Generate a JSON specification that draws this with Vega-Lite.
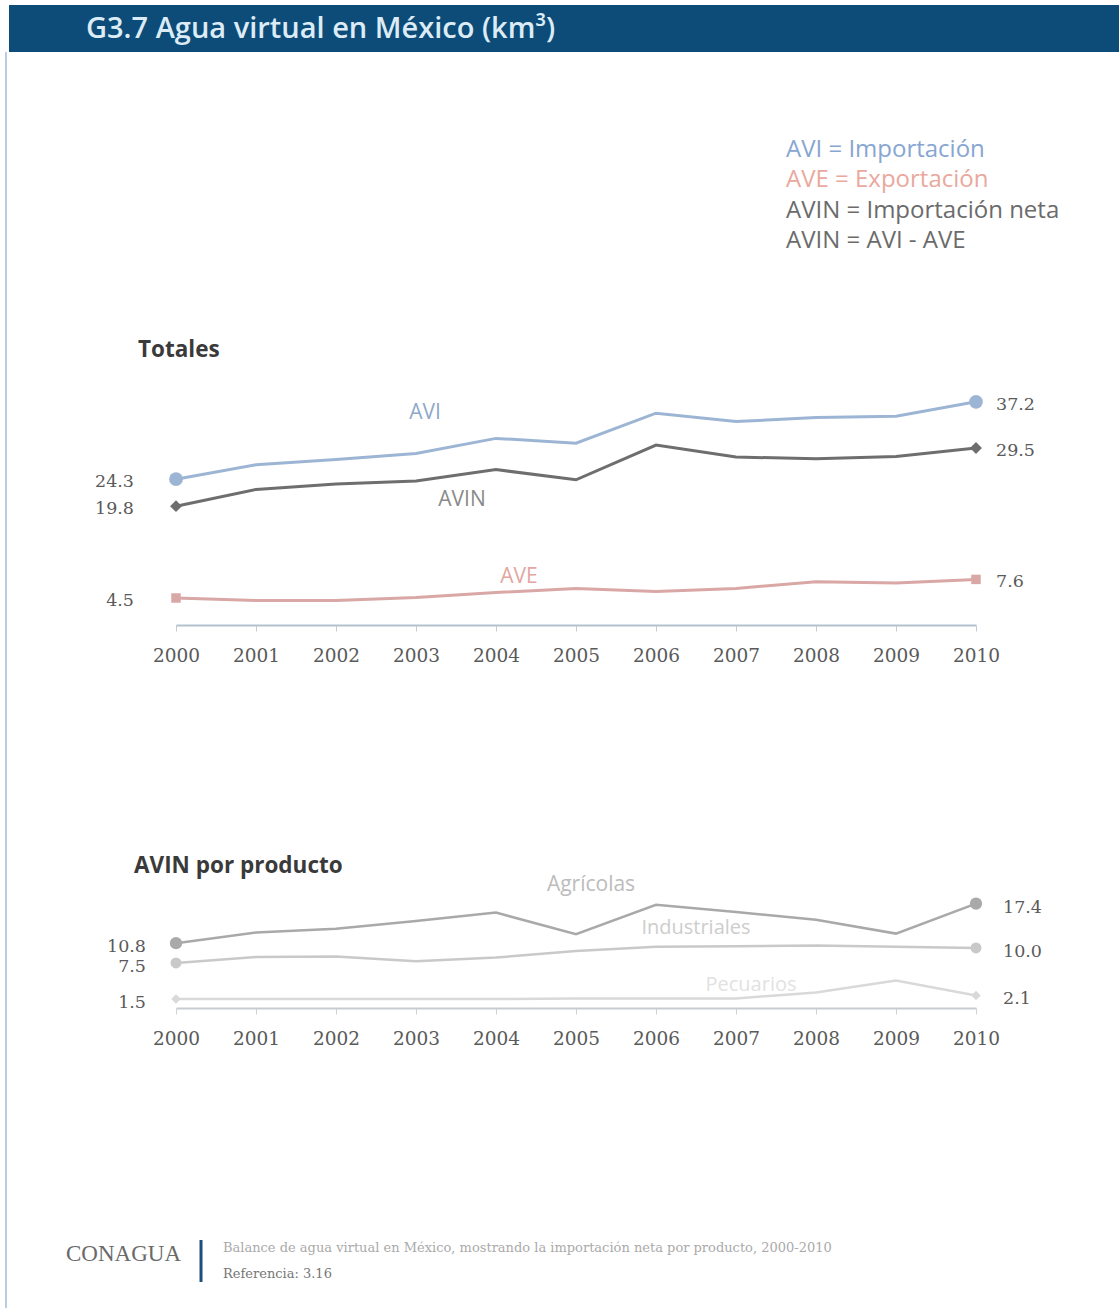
{
  "$schema": "https://vega.github.io/schema/vega-lite/v6.json",
  "background": "white",
  "padding": {"left": 5, "top": 5, "right": 0, "bottom": 0},
  "bounds": "flush",
  "spacing": 0,
  "config": {"view": {"stroke": null}},
  "resolve": {"scale": {"color": "independent", "shape": "independent", "size": "independent", "y": "independent"}},
  "datasets": {
    "totales": [
      {"year": 2000, "series": "AVI", "value": 24.3}, {"year": 2001, "series": "AVI", "value": 26.7}, {"year": 2002, "series": "AVI", "value": 27.6}, {"year": 2003, "series": "AVI", "value": 28.6}, {"year": 2004, "series": "AVI", "value": 31.1}, {"year": 2005, "series": "AVI", "value": 30.3}, {"year": 2006, "series": "AVI", "value": 35.3}, {"year": 2007, "series": "AVI", "value": 33.9}, {"year": 2008, "series": "AVI", "value": 34.6}, {"year": 2009, "series": "AVI", "value": 34.8}, {"year": 2010, "series": "AVI", "value": 37.2},
      {"year": 2000, "series": "AVIN", "value": 19.8}, {"year": 2001, "series": "AVIN", "value": 22.6}, {"year": 2002, "series": "AVIN", "value": 23.5}, {"year": 2003, "series": "AVIN", "value": 24.0}, {"year": 2004, "series": "AVIN", "value": 25.9}, {"year": 2005, "series": "AVIN", "value": 24.2}, {"year": 2006, "series": "AVIN", "value": 30.0}, {"year": 2007, "series": "AVIN", "value": 28.0}, {"year": 2008, "series": "AVIN", "value": 27.7}, {"year": 2009, "series": "AVIN", "value": 28.1}, {"year": 2010, "series": "AVIN", "value": 29.5},
      {"year": 2000, "series": "AVE", "value": 4.5}, {"year": 2001, "series": "AVE", "value": 4.1}, {"year": 2002, "series": "AVE", "value": 4.1}, {"year": 2003, "series": "AVE", "value": 4.6}, {"year": 2004, "series": "AVE", "value": 5.4}, {"year": 2005, "series": "AVE", "value": 6.1}, {"year": 2006, "series": "AVE", "value": 5.6}, {"year": 2007, "series": "AVE", "value": 6.1}, {"year": 2008, "series": "AVE", "value": 7.2}, {"year": 2009, "series": "AVE", "value": 7.0}, {"year": 2010, "series": "AVE", "value": 7.6}
    ],
    "producto": [
      {"year": 2000, "series": "Agrícolas", "value": 10.8}, {"year": 2001, "series": "Agrícolas", "value": 12.6}, {"year": 2002, "series": "Agrícolas", "value": 13.2}, {"year": 2003, "series": "Agrícolas", "value": 14.5}, {"year": 2004, "series": "Agrícolas", "value": 15.9}, {"year": 2005, "series": "Agrícolas", "value": 12.3}, {"year": 2006, "series": "Agrícolas", "value": 17.2}, {"year": 2007, "series": "Agrícolas", "value": 16.0}, {"year": 2008, "series": "Agrícolas", "value": 14.7}, {"year": 2009, "series": "Agrícolas", "value": 12.4}, {"year": 2010, "series": "Agrícolas", "value": 17.4},
      {"year": 2000, "series": "Industriales", "value": 7.5}, {"year": 2001, "series": "Industriales", "value": 8.5}, {"year": 2002, "series": "Industriales", "value": 8.6}, {"year": 2003, "series": "Industriales", "value": 7.8}, {"year": 2004, "series": "Industriales", "value": 8.4}, {"year": 2005, "series": "Industriales", "value": 9.5}, {"year": 2006, "series": "Industriales", "value": 10.2}, {"year": 2007, "series": "Industriales", "value": 10.3}, {"year": 2008, "series": "Industriales", "value": 10.4}, {"year": 2009, "series": "Industriales", "value": 10.2}, {"year": 2010, "series": "Industriales", "value": 10.0},
      {"year": 2000, "series": "Pecuarios", "value": 1.5}, {"year": 2001, "series": "Pecuarios", "value": 1.5}, {"year": 2002, "series": "Pecuarios", "value": 1.5}, {"year": 2003, "series": "Pecuarios", "value": 1.5}, {"year": 2004, "series": "Pecuarios", "value": 1.5}, {"year": 2005, "series": "Pecuarios", "value": 1.6}, {"year": 2006, "series": "Pecuarios", "value": 1.6}, {"year": 2007, "series": "Pecuarios", "value": 1.6}, {"year": 2008, "series": "Pecuarios", "value": 2.6}, {"year": 2009, "series": "Pecuarios", "value": 4.6}, {"year": 2010, "series": "Pecuarios", "value": 2.1}
    ],
    "one": [{"k": 1}]
  },
  "vconcat": [
    {
      "width": 1111,
      "height": 47,
      "view": {"fill": "#0d4b78", "stroke": null},
      "data": {"name": "one"},
      "mark": {"type": "text", "text": "G3.7 Agua virtual en México (km³)", "align": "left", "baseline": "middle", "font": "Open Sans", "fontSize": 29, "fontWeight": 600, "color": "#dcecf6"},
      "encoding": {"x": {"value": 77}, "y": {"value": 24}}
    },
    {
      "width": 1111,
      "height": 573,
      "layer": [
        {
          "data": {"name": "totales"},
          "mark": {"type": "line", "strokeWidth": 3},
          "encoding": {
            "x": {"field": "year", "type": "quantitative", "scale": {"domain": [2000, 2010], "range": [167, 967], "nice": false, "zero": false}, "axis": {"values": [2000, 2001, 2002, 2003, 2004, 2005, 2006, 2007, 2008, 2009, 2010], "format": "d", "domain": true, "domainColor": "#b3c1cf", "domainWidth": 2, "grid": false, "ticks": true, "tickSize": 6, "tickColor": "#c2ccd6", "labelPadding": 15, "labelFlush": false, "labelOverlap": false, "labelFont": "DejaVu Serif", "labelFontSize": 18.5, "labelColor": "#5a5a5a", "title": null}},
            "y": {"field": "value", "type": "quantitative", "scale": {"domain": [0, 95.5], "nice": false}, "axis": null},
            "color": {"field": "series", "type": "nominal", "scale": {"domain": ["AVI", "AVIN", "AVE"], "range": ["#9db5d4", "#6e6e6e", "#d9a7a5"]}, "legend": null}
          }
        },
        {
          "data": {"name": "totales"},
          "transform": [{"filter": "datum.year == 2000 || datum.year == 2010"}],
          "mark": {"type": "point", "filled": true, "opacity": 1},
          "encoding": {
            "x": {"field": "year", "type": "quantitative"},
            "y": {"field": "value", "type": "quantitative"},
            "color": {"field": "series", "type": "nominal", "legend": null},
            "shape": {"field": "series", "type": "nominal", "scale": {"domain": ["AVI", "AVIN", "AVE"], "range": ["circle", "diamond", "square"]}, "legend": null},
            "size": {"field": "series", "type": "nominal", "scale": {"domain": ["AVI", "AVIN", "AVE"], "range": [190, 90, 200]}, "legend": null}
          }
        },
        {
          "data": {"name": "totales"},
          "transform": [{"filter": "datum.year == 2000"}],
          "mark": {"type": "text", "align": "right", "baseline": "middle", "dx": -42, "dy": 3, "font": "DejaVu Serif", "fontSize": 17.5, "color": "#5a5a5a"},
          "encoding": {
            "x": {"field": "year", "type": "quantitative"},
            "y": {"field": "value", "type": "quantitative"},
            "text": {"field": "value", "type": "quantitative", "format": ".1f"}
          }
        },
        {
          "data": {"name": "totales"},
          "transform": [{"filter": "datum.year == 2010"}],
          "mark": {"type": "text", "align": "left", "baseline": "middle", "dx": 20, "dy": 3, "font": "DejaVu Serif", "fontSize": 17.5, "color": "#5a5a5a"},
          "encoding": {
            "x": {"field": "year", "type": "quantitative"},
            "y": {"field": "value", "type": "quantitative"},
            "text": {"field": "value", "type": "quantitative", "format": ".1f"}
          }
        },
        {
          "data": {"name": "one"},
          "mark": {"type": "rule", "color": "#b9cde0", "strokeWidth": 2},
          "encoding": {"x": {"value": -3}, "y": {"value": 0}, "y2": {"value": 573}}
        },
        {
          "data": {"name": "one"},
          "mark": {"type": "text", "text": "AVI", "align": "center", "baseline": "middle", "font": "Open Sans", "fontSize": 21, "color": "#8ea8cc"},
          "encoding": {"x": {"value": 416}, "y": {"value": 361}}
        },
        {
          "data": {"name": "one"},
          "mark": {"type": "text", "text": "AVIN", "align": "center", "baseline": "middle", "font": "Open Sans", "fontSize": 21, "color": "#8a8a8a"},
          "encoding": {"x": {"value": 453}, "y": {"value": 448}}
        },
        {
          "data": {"name": "one"},
          "mark": {"type": "text", "text": "AVE", "align": "center", "baseline": "middle", "font": "Open Sans", "fontSize": 21, "color": "#e2a7a0"},
          "encoding": {"x": {"value": 510}, "y": {"value": 525}}
        },
        {
          "data": {"name": "one"},
          "mark": {"type": "text", "text": "AVI = Importación", "align": "left", "baseline": "middle", "font": "Open Sans", "fontSize": 24, "color": "#87a6d1"},
          "encoding": {"x": {"value": 777}, "y": {"value": 98}}
        },
        {
          "data": {"name": "one"},
          "mark": {"type": "text", "text": "AVE = Exportación", "align": "left", "baseline": "middle", "font": "Open Sans", "fontSize": 24, "color": "#eaa89e"},
          "encoding": {"x": {"value": 777}, "y": {"value": 128}}
        },
        {
          "data": {"name": "one"},
          "mark": {"type": "text", "text": "AVIN = Importación neta", "align": "left", "baseline": "middle", "font": "Open Sans", "fontSize": 24, "color": "#6b6b6b"},
          "encoding": {"x": {"value": 777}, "y": {"value": 159}}
        },
        {
          "data": {"name": "one"},
          "mark": {"type": "text", "text": "AVIN =  AVI - AVE", "align": "left", "baseline": "middle", "font": "Open Sans", "fontSize": 24, "color": "#6b6b6b"},
          "encoding": {"x": {"value": 777}, "y": {"value": 189}}
        },
        {
          "data": {"name": "one"},
          "mark": {"type": "text", "text": "Totales", "align": "left", "baseline": "middle", "font": "Open Sans", "fontSize": 22.5, "fontWeight": "bold", "color": "#3a3a3a"},
          "encoding": {"x": {"value": 129}, "y": {"value": 298}}
        }
      ]
    },
    {
      "width": 1111,
      "height": 383,
      "layer": [
        {
          "data": {"name": "producto"},
          "mark": {"type": "line", "strokeWidth": 2.5},
          "encoding": {
            "x": {"field": "year", "type": "quantitative", "scale": {"domain": [2000, 2010], "range": [167, 967], "nice": false, "zero": false}, "axis": {"values": [2000, 2001, 2002, 2003, 2004, 2005, 2006, 2007, 2008, 2009, 2010], "format": "d", "domain": true, "domainColor": "#c8ccd2", "domainWidth": 2, "grid": false, "ticks": true, "tickSize": 6, "tickColor": "#cfd3d8", "labelPadding": 15, "labelFlush": false, "labelOverlap": false, "labelFont": "DejaVu Serif", "labelFontSize": 18.5, "labelColor": "#5a5a5a", "title": null}},
            "y": {"field": "value", "type": "quantitative", "scale": {"domain": [0, 63.83], "nice": false}, "axis": null},
            "color": {"field": "series", "type": "nominal", "scale": {"domain": ["Agrícolas", "Industriales", "Pecuarios"], "range": ["#a9a9a9", "#c9c9c9", "#d9d9d9"]}, "legend": null}
          }
        },
        {
          "data": {"name": "producto"},
          "transform": [{"filter": "datum.year == 2000 || datum.year == 2010"}],
          "mark": {"type": "point", "filled": true, "opacity": 1},
          "encoding": {
            "x": {"field": "year", "type": "quantitative"},
            "y": {"field": "value", "type": "quantitative"},
            "color": {"field": "series", "type": "nominal", "legend": null},
            "shape": {"field": "series", "type": "nominal", "scale": {"domain": ["Agrícolas", "Industriales", "Pecuarios"], "range": ["circle", "circle", "diamond"]}, "legend": null},
            "size": {"field": "series", "type": "nominal", "scale": {"domain": ["Agrícolas", "Industriales", "Pecuarios"], "range": [150, 90, 190]}, "legend": null}
          }
        },
        {
          "data": {"name": "producto"},
          "transform": [{"filter": "datum.year == 2000"}],
          "mark": {"type": "text", "align": "right", "baseline": "middle", "dx": -30, "dy": 4, "font": "DejaVu Serif", "fontSize": 17.5, "color": "#5a5a5a"},
          "encoding": {
            "x": {"field": "year", "type": "quantitative"},
            "y": {"field": "value", "type": "quantitative"},
            "text": {"field": "value", "type": "quantitative", "format": ".1f"}
          }
        },
        {
          "data": {"name": "producto"},
          "transform": [{"filter": "datum.year == 2010"}],
          "mark": {"type": "text", "align": "left", "baseline": "middle", "dx": 27, "dy": 4, "font": "DejaVu Serif", "fontSize": 17.5, "color": "#5a5a5a"},
          "encoding": {
            "x": {"field": "year", "type": "quantitative"},
            "y": {"field": "value", "type": "quantitative"},
            "text": {"field": "value", "type": "quantitative", "format": ".1f"}
          }
        },
        {
          "data": {"name": "one"},
          "mark": {"type": "rule", "color": "#b9cde0", "strokeWidth": 2},
          "encoding": {"x": {"value": -3}, "y": {"value": 0}, "y2": {"value": 383}}
        },
        {
          "data": {"name": "one"},
          "mark": {"type": "text", "text": "Agrícolas", "align": "center", "baseline": "middle", "font": "Open Sans", "fontSize": 21, "color": "#bcbcbc"},
          "encoding": {"x": {"value": 582}, "y": {"value": 260}}
        },
        {
          "data": {"name": "one"},
          "mark": {"type": "text", "text": "Industriales", "align": "center", "baseline": "middle", "font": "Open Sans", "fontSize": 20, "color": "#cdcdcd"},
          "encoding": {"x": {"value": 687}, "y": {"value": 303}}
        },
        {
          "data": {"name": "one"},
          "mark": {"type": "text", "text": "Pecuarios", "align": "center", "baseline": "middle", "font": "Open Sans", "fontSize": 20, "color": "#e2e2e2"},
          "encoding": {"x": {"value": 742}, "y": {"value": 360}}
        },
        {
          "data": {"name": "one"},
          "mark": {"type": "text", "text": "AVIN por producto", "align": "left", "baseline": "middle", "font": "Open Sans", "fontSize": 22.5, "fontWeight": "bold", "color": "#3a3a3a"},
          "encoding": {"x": {"value": 125}, "y": {"value": 241}}
        }
      ]
    },
    {
      "width": 1111,
      "height": 300,
      "data": {"name": "one"},
      "layer": [
        {
          "mark": {"type": "rule", "color": "#b9cde0", "strokeWidth": 2},
          "encoding": {"x": {"value": -3}, "y": {"value": 0}, "y2": {"value": 300}}
        },
        {
          "mark": {"type": "text", "text": "CONAGUA", "align": "left", "baseline": "middle", "font": "Liberation Serif", "fontSize": 23, "color": "#6a6a6a"},
          "encoding": {"x": {"value": 57}, "y": {"value": 246}}
        },
        {
          "mark": {"type": "rule", "color": "#1f4f78", "strokeWidth": 3},
          "encoding": {"x": {"value": 192}, "y": {"value": 232}, "y2": {"value": 274}}
        },
        {
          "mark": {"type": "text", "text": "Balance de agua virtual en México, mostrando la importación neta por producto, 2000-2010", "align": "left", "baseline": "middle", "font": "DejaVu Serif", "fontSize": 13, "color": "#aaaaaa"},
          "encoding": {"x": {"value": 214}, "y": {"value": 240}}
        },
        {
          "mark": {"type": "text", "text": "Referencia: 3.16", "align": "left", "baseline": "middle", "font": "DejaVu Serif", "fontSize": 13, "color": "#777777"},
          "encoding": {"x": {"value": 214}, "y": {"value": 266}}
        }
      ]
    }
  ]
}
